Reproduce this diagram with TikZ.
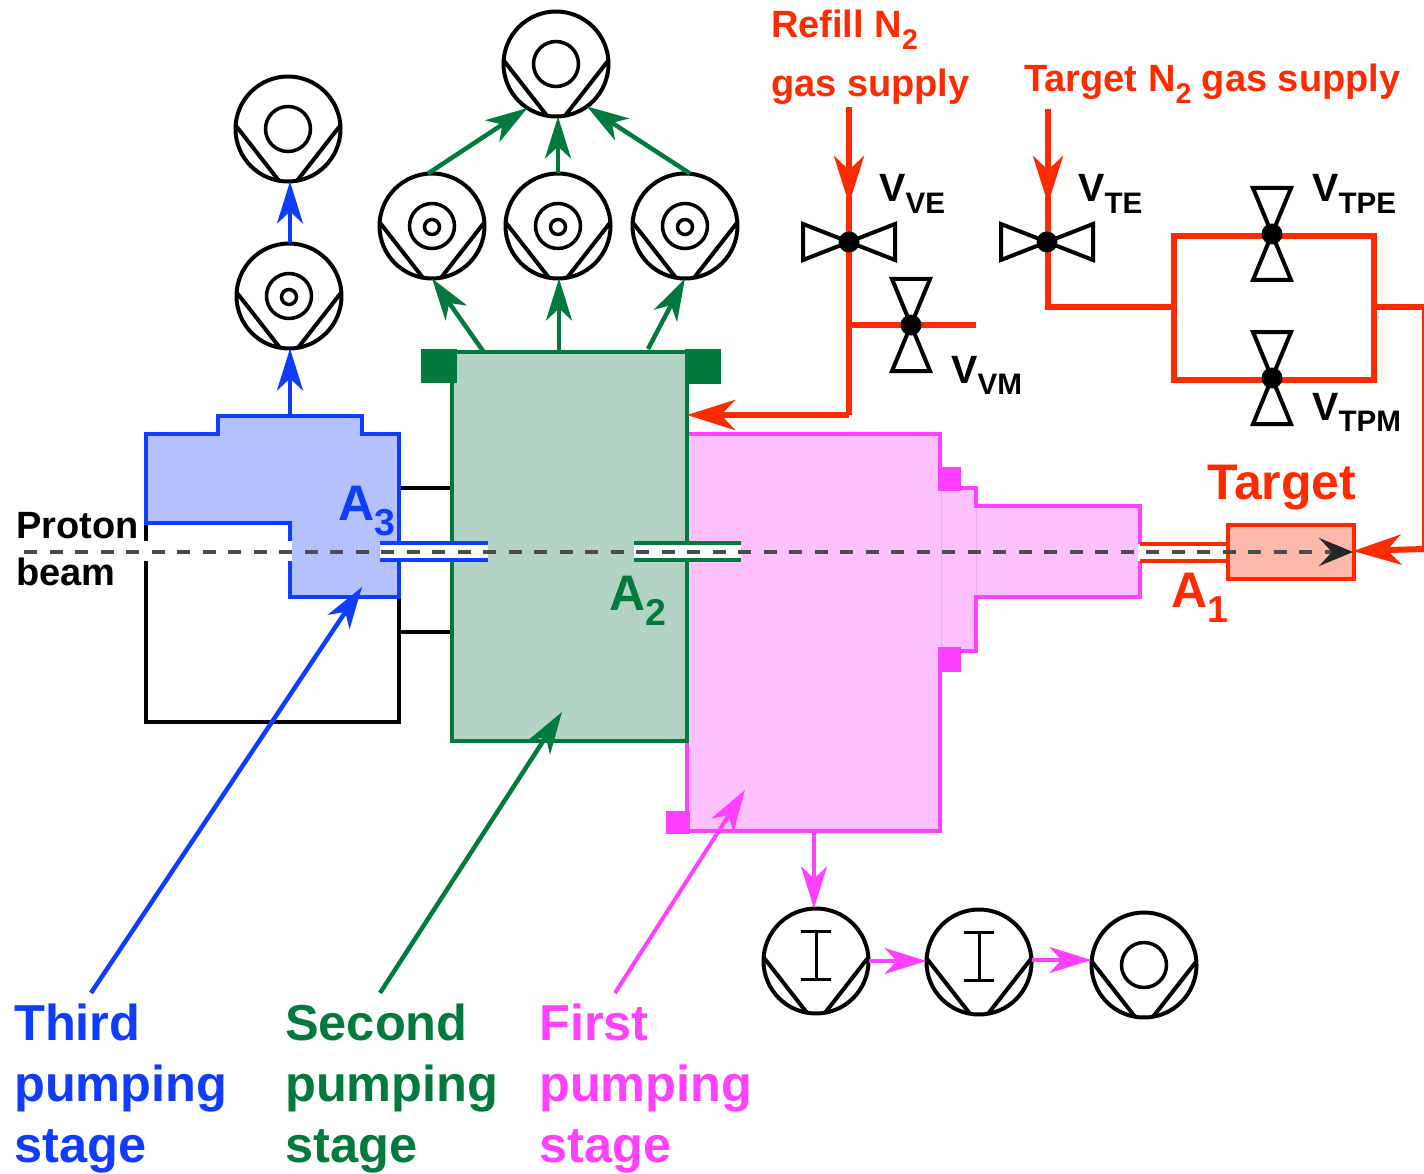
\documentclass[tikz,border=0pt]{standalone}
\usepackage{fontspec}
\setmainfont{Liberation Sans}
\usetikzlibrary{arrows.meta}

\definecolor{bluestage}{HTML}{0F3CFF}
\definecolor{bluefill}{HTML}{B3C1FF}
\definecolor{greenstage}{HTML}{027A3E}
\definecolor{greenfill}{HTML}{B3D4C4}
\definecolor{pinkstage}{HTML}{FF40FF}
\definecolor{pinkfill}{HTML}{FEC1FF}
\definecolor{pinkpale}{HTML}{F8A8F8}
\definecolor{redgas}{HTML}{FF2A00}
\definecolor{redfill}{HTML}{FEB9AD}

\tikzset{
	pumpcircle/.style={circle, draw, line width=4pt, inner sep=0pt, outer sep=0pt, minimum size=105pt},
	pumpline/.style={line width=4pt},
	ringbig/.style={circle, draw, line width=3.5pt, inner sep=0pt, outer sep=0pt, minimum size=45pt},
	ringsmall/.style={circle, draw, line width=3.5pt, inner sep=0pt, outer sep=0pt, minimum size=15pt},
	valvedot/.style={circle, fill=black, inner sep=0pt, outer sep=0pt, minimum size=21pt},
	valveline/.style={line width=4pt, line join=miter},
	bluearrow/.style={line width=4.5pt, draw=bluestage, -{Stealth[length=42pt,width=26pt,inset=12pt,fill=bluestage]}},
	greenarrow/.style={line width=4.5pt, draw=greenstage, -{Stealth[length=42pt,width=26pt,inset=12pt,fill=greenstage]}},
	pinkarrow/.style={line width=4pt, draw=pinkstage, -{Stealth[length=42pt,width=26pt,inset=12pt,fill=pinkstage]}},
	redarrow/.style={line width=6pt, draw=redgas, -{Stealth[length=48pt,width=30pt,inset=14pt,fill=redgas]}},
	redline/.style={line width=6pt, draw=redgas, line join=miter},
	stagetext/.style={font=\fontsize{50.5}{61}\selectfont\bfseries, align=left, anchor=north west, inner sep=0pt},
	gastext/.style={font=\fontsize{38}{44}\selectfont\bfseries, text=redgas, anchor=base west, inner sep=0pt},
	apertext/.style={font=\fontsize{50}{60}\selectfont\bfseries, anchor=base west, inner sep=0pt},
	valvetext/.style={font=\fontsize{39.5}{48}\selectfont\bfseries, anchor=base west, inner sep=0pt},
	beamtext/.style={font=\fontsize{38}{44}\selectfont\bfseries, anchor=base west, inner sep=0pt}
}

\newcommand{\lowsub}[1]{\raisebox{-.3em}{\scalebox{.75}{#1}}}
\newcommand{\pumpbody}[2]{
	\node[pumpcircle] (#1) at (#2) {};
	\draw[pumpline] (#1.176) -- (#1.260);
	\draw[pumpline] (#1.4) -- (#1.280);
}
\newcommand{\pumpone}[2]{
	\pumpbody{#1}{#2}
	\node[ringbig] (#1ring) at (#1) {};
}
\newcommand{\pumptwo}[2]{
	\pumpone{#1}{#2}
	\node[ringsmall] (#1core) at ([yshift=-1pt]#1) {};
}
\newcommand{\pumpturbo}[2]{
	\pumpbody{#1}{#2}
	\coordinate (#1top) at ([yshift=30pt]#1);
	\coordinate (#1bot) at ([yshift=-18pt]#1);
	\draw[line width=3pt] (#1top) -- (#1bot);
	\draw[line width=3pt] ([xshift=-15pt]#1top) -- ([xshift=15pt]#1top);
	\draw[line width=3pt] ([xshift=-15pt]#1bot) -- ([xshift=15pt]#1bot);
}
\newcommand{\valvesideways}[2]{
	\coordinate (#1c) at (#2);
	\draw[valveline] (#1c) -- ++(-46,-18) -- ++(0,36) -- cycle;
	\draw[valveline] (#1c) -- ++(46,-18) -- ++(0,36) -- cycle;
	\node[valvedot] (#1) at (#1c) {};
}
\newcommand{\valveupright}[2]{
	\coordinate (#1c) at (#2);
	\draw[valveline] (#1c) -- ++(-19,-46) -- ++(38,0) -- cycle;
	\draw[valveline] (#1c) -- ++(-19,46) -- ++(38,0) -- cycle;
	\node[valvedot] (#1) at (#1c) {};
}

\begin{document}
\begin{tikzpicture}[x=1pt, y=-1pt]
	\useasboundingbox (0,0) rectangle (1424,1174);

	% black chamber and its flanges
	\draw[line width=4.5pt, line join=miter] (146,523) -- (146,722) -- (399,722) -- (399,597);
	\draw[line width=4.5pt] (399,488) -- (452,488);
	\draw[line width=4.5pt] (399,632) -- (452,632);

	% third stage
	\draw[line width=4.5pt, draw=bluestage, fill=bluefill, line join=miter] (146,434) -- (218,434) -- (218,416) -- (362,416) -- (362,434) -- (399,434) -- (399,597) -- (290,597) -- (290,523) -- (146,523) -- cycle;
	\fill[white] (140,541) rectangle (292,561);

	% first stage
	\fill[pinkfill] (687,434) -- (940,434) -- (940,488) -- (976,488) -- (976,506) -- (1140,506) -- (1140,597) -- (976,597) -- (976,651) -- (940,651) -- (940,831) -- (687,831) -- cycle;
	\draw[line width=1pt, draw=pinkpale] (941,488) -- (941,651);
	\draw[line width=1pt, draw=pinkpale] (976,506) -- (976,597);
	\draw[line width=4.5pt, draw=pinkstage, line join=miter] (687,434) -- (940,434) -- (940,488) -- (976,488) -- (976,506) -- (1140,506) -- (1140,597) -- (976,597) -- (976,651) -- (940,651) -- (940,831) -- (687,831) -- (687,741);
	\fill[pinkstage] (938,467) rectangle (961,491);
	\fill[pinkstage] (938,647) rectangle (961,672);
	\fill[pinkstage] (666,811) rectangle (690,834);

	% second stage
	\draw[line width=4.5pt, draw=greenstage, fill=greenfill] (452,352) rectangle (687,741);
	\fill[greenstage] (421,349) rectangle (457,383);
	\fill[greenstage] (685,349) rectangle (721,384);

	% apertures
	\fill[white] (380,544) rectangle (488,559);
	\draw[line width=4.5pt, draw=bluestage] (380,543) -- (488,543);
	\draw[line width=4.5pt, draw=bluestage] (380,560) -- (488,560);
	\fill[white] (634,544) rectangle (741,559);
	\draw[line width=4.5pt, draw=greenstage] (634,543) -- (741,543);
	\draw[line width=4.5pt, draw=greenstage] (634,560) -- (741,560);
	\fill[white] (1138,544) rectangle (1230,561);
	\draw[line width=4.5pt, draw=redgas] (1140,544) -- (1228,544);
	\draw[line width=4.5pt, draw=redgas] (1140,561) -- (1228,561);

	% target
	\draw[line width=4.5pt, draw=redgas, fill=redfill] (1228,525) rectangle (1354,579);

	% beam
	\coordinate (beamstart) at (24,552);
	\coordinate (beamend) at (1353,552);
	\draw[line width=3.5pt, draw=black!70, dash pattern=on 13pt off 12.5pt, -{Stealth[length=34pt,width=28pt,inset=13pt,color=black!85]}] (beamstart) -- (beamend);

	% pumps
	\pumpone{thirdtop}{288,129}
	\pumptwo{thirdlow}{289,296}
	\pumpone{secondtop}{556,64}
	\pumptwo{secondleft}{432,226}
	\pumptwo{secondmid}{558,226}
	\pumptwo{secondright}{685,226}
	\pumpturbo{firstleft}{816,961}
	\pumpturbo{firstmid}{979,962}
	\pumpone{firstright}{1144,965}

	% exhaust arrows
	\coordinate (thirdout) at (290,416);
	\coordinate (secondoutl) at (483,351);
	\coordinate (secondoutm) at (559,351);
	\coordinate (secondoutr) at (648,349);
	\coordinate (firstout) at (814,831);
	\draw[bluearrow] (thirdout) -- (thirdout |- thirdlow.south);
	\draw[bluearrow] (thirdout |- thirdlow.north) -- (thirdout |- thirdtop.south);
	\draw[greenarrow] (secondoutl) -- (secondleft.south);
	\draw[greenarrow] (secondoutm) -- (secondoutm |- secondmid.south);
	\draw[greenarrow] (secondoutr) -- (secondright.south);
	\draw[greenarrow] ([xshift=-4pt]secondleft.north) -- (secondtop.237);
	\draw[greenarrow] (secondmid.north) -- (secondmid.north |- secondtop.south);
	\draw[greenarrow] ([xshift=5pt]secondright.north) -- (secondtop.306);
	\draw[pinkarrow] (firstout) -- (firstout |- firstleft.north);
	\draw[pinkarrow] (firstleft.east) -- (firstleft.east -| firstmid.west);
	\draw[pinkarrow] ([yshift=2pt]firstmid.east) -- ([yshift=2pt]firstmid.east -| firstright.west);

	% gas lines
	\coordinate (refilltop) at (849,107);
	\coordinate (refilltip) at (849,204);
	\coordinate (refilltee) at (849,325);
	\coordinate (refillend) at (976,325);
	\coordinate (refillbend) at (849,415);
	\coordinate (refillin) at (687,415);
	\coordinate (targettop) at (1048,109);
	\coordinate (targettip) at (1048,204);
	\coordinate (targetbend) at (1048,307);
	\coordinate (loopin) at (1174,307);
	\coordinate (loopout) at (1374,307);
	\coordinate (edgetop) at (1424.5,307);
	\coordinate (edgelow) at (1424.5,549);
	\coordinate (targetin) at (1353,551);
	\draw[redarrow] (refilltop) -- (refilltip);
	\draw[redline] ([yshift=8pt]refilltip) -- (refillbend);
	\draw[redarrow] (refillbend) -- (refillin);
	\draw[redline] (refilltee) -- (refillend);
	\draw[redarrow] (targettop) -- (targettip);
	\draw[redline] ([yshift=8pt]targettip) -- (targetbend) -- (loopin);
	\draw[redline] (1174,236) rectangle (1374,380);
	\draw[redline] (loopout) -- (edgetop) -- (edgelow);
	\draw[redarrow] (edgelow) -- (targetin);

	% valves
	\valvesideways{vve}{849,242}
	\valveupright{vvm}{911,325}
	\valvesideways{vte}{1047,242}
	\valveupright{vtpe}{1272,234}
	\valveupright{vtpm}{1272,378}

	% labels
	\node[gastext] (refilla) at (771,38) {Refill N\lowsub{2}};
	\node[gastext] (refillb) at (771,97) {gas supply};
	\node[gastext] (targetgas) at (1024,92) {Target N\lowsub{2} gas supply};
	\node[apertext, text=redgas] (targetlabel) at (1207,499) {Target};
	\node[valvetext] (vvelabel) at (879,202) {V\lowsub{VE}};
	\node[valvetext] (vvmlabel) at (951,383) {V\lowsub{VM}};
	\node[valvetext] (vtelabel) at (1078,202) {V\lowsub{TE}};
	\node[valvetext] (vtpelabel) at (1312,202) {V\lowsub{TPE}};
	\node[valvetext] (vtpmlabel) at (1312,420) {V\lowsub{TPM}};
	\node[apertext, text=bluestage] (athree) at (338,520) {A\lowsub{3}};
	\node[apertext, text=greenstage] (atwo) at (609,610) {A\lowsub{2}};
	\node[apertext, text=redgas] (aone) at (1171,607) {A\lowsub{1}};
	\node[beamtext] (protonlabel) at (16,538) {Proton};
	\node[beamtext] (beamlabel) at (16,585) {beam};

	\node[stagetext, text=bluestage] (thirdlabel) at (14,1004) {Third\\pumping\\stage};
	\node[stagetext, text=greenstage] (secondlabel) at (285,1004) {Second\\pumping\\stage};
	\node[stagetext, text=pinkstage] (firstlabel) at (539,1004) {First\\pumping\\stage};

	% pointers from the stage names
	\coordinate (thirdfoot) at (91,993);
	\coordinate (thirdhead) at (362,587);
	\coordinate (secondfoot) at (380,993);
	\coordinate (secondhead) at (562,712);
	\coordinate (firstfoot) at (615,993);
	\coordinate (firsthead) at (745,790);
	\draw[bluearrow] (thirdfoot) -- (thirdhead);
	\draw[greenarrow] (secondfoot) -- (secondhead);
	\draw[pinkarrow] (firstfoot) -- (firsthead);
\end{tikzpicture}
\end{document}
